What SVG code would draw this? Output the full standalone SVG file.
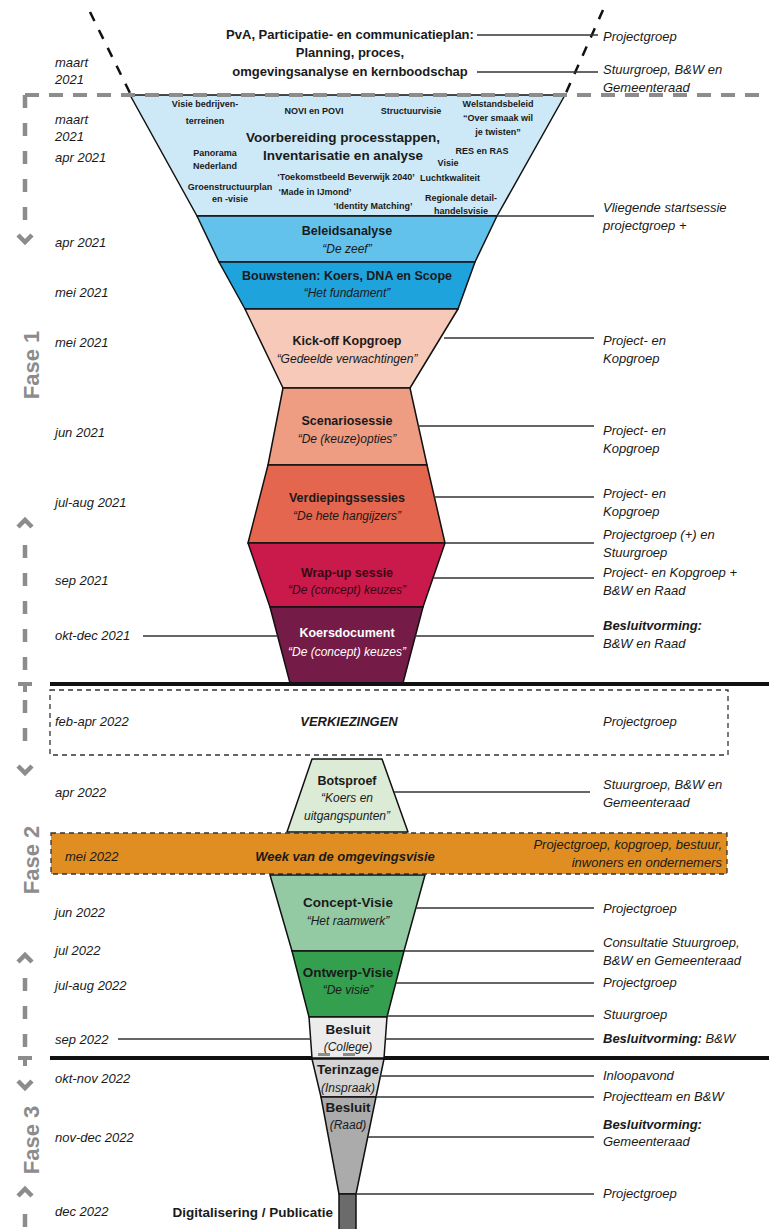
<svg xmlns="http://www.w3.org/2000/svg" width="769" height="1229" viewBox="0 0 769 1229">
<style>
text{font-family:"Liberation Sans",Arial,sans-serif;fill:#1a1a1a}
.d{font-size:13px;font-style:italic}
.r{font-size:13px;font-style:italic}
.rb{font-size:13px;font-style:italic;font-weight:bold}
.t{font-size:12.5px;font-weight:bold;text-anchor:middle}
.tl{font-size:13.5px;font-weight:bold;text-anchor:middle}
.q{font-size:12px;font-style:italic;text-anchor:middle}
.s{font-size:9px;font-weight:bold;text-anchor:middle}
.m{font-size:13px;font-weight:bold;text-anchor:middle}
.w{fill:#ffffff}
.fase{font-size:22px;font-weight:bold;fill:#8c8c8c;text-anchor:middle}
.conn line{stroke:#333;stroke-width:1.3}
.fn{stroke:#111;stroke-width:1.5;stroke-linejoin:round}
.ph{stroke:#8c8c8c;stroke-width:4;fill:none}
.chev{stroke:#8c8c8c;stroke-width:4.5;fill:none;stroke-linejoin:miter}
.dash{stroke:#8c8c8c;stroke-width:4.5;fill:none;stroke-dasharray:13 15}
.box{fill:none;stroke:#333;stroke-width:1.3;stroke-dasharray:5 4}
</style>

<!-- top dashed diagonal lines -->
<g id="top-funnel-lines">
<line x1="90" y1="12" x2="131" y2="95" stroke="#111" stroke-width="2.5" stroke-dasharray="10 10"/>
<line x1="603" y1="10" x2="565" y2="95" stroke="#111" stroke-width="2.5" stroke-dasharray="10 10"/>
</g>

<g id="node-pva">
<text class="m" x="350" y="39">PvA, Participatie- en communicatieplan:</text>
<text class="m" x="350" y="57">Planning, proces,</text>
<text class="m" x="350" y="76">omgevingsanalyse en kernboodschap</text>
</g>

<!-- funnel phase 1 -->
<g id="node-voorbereiding">
<polygon class="fn" points="130,95 565,95 497,216 197,216" fill="#cde8f6"/>
<text class="s" x="205" y="107">Visie bedrijven-</text>
<text class="s" x="205" y="124">terreinen</text>
<text class="s" x="314" y="114">NOVI en POVI</text>
<text class="s" x="411" y="114">Structuurvisie</text>
<text class="s" x="498" y="107">Welstandsbeleid</text>
<text class="s" x="498" y="121">“Over smaak wil</text>
<text class="s" x="498" y="135">je twisten”</text>
<text class="tl" x="343" y="142">Voorbereiding processtappen,</text>
<text class="tl" x="343" y="160">Inventarisatie en analyse</text>
<text class="s" x="215" y="156">Panorama</text>
<text class="s" x="215" y="169">Nederland</text>
<text class="s" x="482" y="154">RES en RAS</text>
<text class="s" x="448" y="166">Visie</text>
<text class="s" x="450" y="181">Luchtkwaliteit</text>
<text class="s" x="346" y="180">‘Toekomstbeeld Beverwijk 2040’</text>
<text class="s" x="230" y="190">Groenstructuurplan</text>
<text class="s" x="230" y="202">en -visie</text>
<text class="s" x="315" y="195">‘Made in IJmond’</text>
<text class="s" x="373" y="209">‘Identity Matching’</text>
<text class="s" x="461" y="201">Regionale detail-</text>
<text class="s" x="461" y="214">handelsvisie</text>
</g>

<g id="node-beleidsanalyse">
<polygon class="fn" points="197,216 497,216 475,262 219,262" fill="#62c2ec"/>
<text class="t" x="347" y="234.5">Beleidsanalyse</text>
<text class="q" x="347" y="252.5">“De zeef”</text>
</g>

<g id="node-bouwstenen">
<polygon class="fn" points="219,262 475,262 458,309 245,309" fill="#1fa3dd"/>
<text class="t" x="347" y="279.5">Bouwstenen: Koers, DNA en Scope</text>
<text class="q" x="347" y="296.5">“Het fundament”</text>
</g>

<g id="node-kickoff">
<polygon class="fn" points="245,309 458,309 410,388 283,388" fill="#f6c9b8"/>
<text class="t" x="347" y="344.5">Kick-off Kopgroep</text>
<text class="q" x="347" y="362.5">“Gedeelde verwachtingen”</text>
</g>

<g id="node-scenario">
<polygon class="fn" points="283,388 410,388 427,465 268,465" fill="#ee9c82"/>
<text class="t" x="347" y="424.5">Scenariosessie</text>
<text class="q" x="347" y="442.5">“De (keuze)opties”</text>
</g>

<g id="node-verdieping">
<polygon class="fn" points="268,465 427,465 445,543 248,543" fill="#e4664e"/>
<text class="t" x="347" y="501.5">Verdiepingssessies</text>
<text class="q" x="347" y="519.5">“De hete hangijzers”</text>
</g>

<g id="node-wrapup">
<polygon class="fn" points="248,543 445,543 423,607 270,607" fill="#c91a4b"/>
<text class="t" x="347" y="576.5" style="fill:#3a0812">Wrap-up sessie</text>
<text class="q" x="347" y="593.5" style="fill:#3a0812">“De (concept) keuzes”</text>
</g>

<g id="node-koersdocument">
<polygon class="fn" points="270,607 423,607 403,683 290,683" fill="#741b47"/>
<text class="t w" x="347" y="636.5">Koersdocument</text>
<text class="q w" x="347" y="655.5">“De (concept) keuzes”</text>
</g>

<!-- horizontal separators -->
<g id="separators">
<line x1="25" y1="95" x2="769" y2="95" stroke="#8c8c8c" stroke-width="4" stroke-dasharray="14 10"/>
<line x1="50" y1="684" x2="769" y2="684" stroke="#111" stroke-width="4"/>
<line x1="50" y1="1058" x2="769" y2="1058" stroke="#111" stroke-width="4"/>
</g>

<g id="node-verkiezingen">
<rect class="box" x="50" y="690" width="678" height="65"/>
<text class="d" x="55" y="726">feb-apr 2022</text>
<text class="rb" x="349" y="726" text-anchor="middle">VERKIEZINGEN</text>
<text class="r" x="603" y="726">Projectgroep</text>
</g>

<g id="node-botsproef">
<polygon class="fn" points="312,759 382,759 408,832 287,832" fill="#dcebd5"/>
<text class="t" x="347" y="784.5">Botsproef</text>
<text class="q" x="347" y="801.5">“Koers en</text>
<text class="q" x="347" y="819.5">uitgangspunten”</text>
</g>

<g id="node-week">
<rect x="51" y="833" width="676" height="41" fill="#e08e22" stroke="#333" stroke-width="1.3" stroke-dasharray="5 4"/>
<text class="d" x="65" y="861">mei 2022</text>
<text class="rb" x="345" y="861" text-anchor="middle">Week van de omgevingsvisie</text>
<text class="r" x="722" y="849" text-anchor="end">Projectgroep, kopgroep, bestuur,</text>
<text class="r" x="722" y="867" text-anchor="end">inwoners en ondernemers</text>
</g>

<g id="node-concept">
<polygon class="fn" points="270,875 425,875 404,951 292,951" fill="#94caa3"/>
<text class="tl" x="348" y="907">Concept-Visie</text>
<text class="q" x="348" y="925">“Het raamwerk”</text>
</g>

<g id="node-ontwerp">
<polygon class="fn" points="292,951 404,951 387,1017 309,1017" fill="#34a04f"/>
<text class="tl" x="348" y="977">Ontwerp-Visie</text>
<text class="q" x="348" y="994">“De visie”</text>
</g>

<g id="node-besluit-college">
<polygon class="fn" points="309,1017 387,1017 384,1058 312,1058" fill="#ececec"/>
<text class="tl" x="348" y="1034">Besluit</text>
<text class="q" x="348" y="1051">(College)</text>
<rect x="318" y="1053" width="12" height="3" fill="#8c8c8c"/>
<rect x="343" y="1053" width="12" height="3" fill="#8c8c8c"/>
</g>

<g id="node-terinzage">
<polygon class="fn" points="312,1059 384,1059 376,1097 321,1097" fill="#d3d3d3"/>
<text class="tl" x="348" y="1074">Terinzage</text>
<text class="q" x="348" y="1092">(Inspraak)</text>
</g>

<g id="node-besluit-raad">
<polygon class="fn" points="321,1097 376,1097 356,1194 339,1194" fill="#ababab"/>
<text class="tl" x="348" y="1112">Besluit</text>
<text class="q" x="348" y="1129">(Raad)</text>
</g>

<g id="node-digitalisering">
<rect class="fn" x="339" y="1194" width="17" height="40" fill="#6b6b6b"/>
<text class="tl" x="333" y="1217" style="text-anchor:end">Digitalisering /  Publicatie</text>
</g>

<!-- connectors -->
<g id="connectors" class="conn">
<line x1="477" y1="35" x2="598" y2="35"/>
<line x1="477" y1="72" x2="598" y2="72"/>
<line x1="497" y1="216" x2="594" y2="216"/>
<line x1="444" y1="338" x2="594" y2="338"/>
<line x1="418" y1="426" x2="594" y2="426"/>
<line x1="434" y1="497" x2="594" y2="497"/>
<line x1="445" y1="543" x2="594" y2="543"/>
<line x1="433" y1="578" x2="594" y2="578"/>
<line x1="415" y1="636" x2="594" y2="636"/>
<line x1="143" y1="636" x2="278" y2="636"/>
<line x1="394" y1="792" x2="590" y2="792"/>
<line x1="416" y1="908" x2="594" y2="908"/>
<line x1="404" y1="951" x2="594" y2="951"/>
<line x1="396" y1="983" x2="594" y2="983"/>
<line x1="387" y1="1016" x2="594" y2="1016"/>
<line x1="385" y1="1039" x2="594" y2="1039"/>
<line x1="118" y1="1039" x2="311" y2="1039"/>
<line x1="380" y1="1076" x2="594" y2="1076"/>
<line x1="376" y1="1097" x2="594" y2="1097"/>
<line x1="368" y1="1137" x2="594" y2="1137"/>
<line x1="356" y1="1194" x2="594" y2="1194"/>
</g>

<!-- right-hand labels -->
<g id="labels-right">
<text class="r" x="603" y="41">Projectgroep</text>
<text class="r" x="603" y="74">Stuurgroep, B&amp;W en</text>
<text class="r" x="603" y="92">Gemeenteraad</text>
<text class="r" x="603" y="212">Vliegende startsessie</text>
<text class="r" x="603" y="230">projectgroep +</text>
<text class="r" x="603" y="345">Project- en</text>
<text class="r" x="603" y="363">Kopgroep</text>
<text class="r" x="603" y="435">Project- en</text>
<text class="r" x="603" y="453">Kopgroep</text>
<text class="r" x="603" y="498">Project- en</text>
<text class="r" x="603" y="516">Kopgroep</text>
<text class="r" x="603" y="539">Projectgroep (+) en</text>
<text class="r" x="603" y="557">Stuurgroep</text>
<text class="r" x="603" y="577">Project- en Kopgroep +</text>
<text class="r" x="603" y="595">B&amp;W en Raad</text>
<text class="rb" x="603" y="630">Besluitvorming:</text>
<text class="r" x="603" y="648">B&amp;W en Raad</text>
<text class="r" x="603" y="789">Stuurgroep, B&amp;W en</text>
<text class="r" x="603" y="807">Gemeenteraad</text>
<text class="r" x="603" y="913">Projectgroep</text>
<text class="r" x="603" y="947">Consultatie Stuurgroep,</text>
<text class="r" x="603" y="965">B&amp;W en Gemeenteraad</text>
<text class="r" x="603" y="987">Projectgroep</text>
<text class="r" x="603" y="1019">Stuurgroep</text>
<text class="r" x="603" y="1043"><tspan font-weight="bold">Besluitvorming:</tspan> B&amp;W</text>
<text class="r" x="603" y="1080">Inloopavond</text>
<text class="r" x="603" y="1101">Projectteam en B&amp;W</text>
<text class="rb" x="603" y="1129">Besluitvorming:</text>
<text class="r" x="603" y="1146">Gemeenteraad</text>
<text class="r" x="603" y="1198">Projectgroep</text>
</g>

<!-- left-hand dates -->
<g id="labels-left">
<text class="d" x="55" y="67">maart</text>
<text class="d" x="55" y="84">2021</text>
<text class="d" x="55" y="124">maart</text>
<text class="d" x="55" y="141">2021</text>
<text class="d" x="55" y="162">apr 2021</text>
<text class="d" x="55" y="247">apr 2021</text>
<text class="d" x="55" y="297">mei 2021</text>
<text class="d" x="55" y="347">mei 2021</text>
<text class="d" x="55" y="437">jun 2021</text>
<text class="d" x="55" y="507">jul-aug 2021</text>
<text class="d" x="55" y="585">sep 2021</text>
<text class="d" x="55" y="640">okt-dec 2021</text>
<text class="d" x="55" y="797">apr 2022</text>
<text class="d" x="55" y="917">jun 2022</text>
<text class="d" x="55" y="955">jul 2022</text>
<text class="d" x="55" y="990">jul-aug 2022</text>
<text class="d" x="55" y="1044">sep 2022</text>
<text class="d" x="55" y="1083">okt-nov 2022</text>
<text class="d" x="55" y="1142">nov-dec 2022</text>
<text class="d" x="55" y="1216">dec 2022</text>
</g>

<!-- phase markers -->
<g id="phase-1">
<path class="dash" d="M25,95 V224"/>
<path class="chev" d="M18,235 L25,242 L32,235"/>
<text class="fase" transform="translate(39,365) rotate(-90)">Fase 1</text>
<path class="chev" d="M18,527 L25,520 L32,527"/>
<path class="dash" d="M25,545 V676"/>
<path class="ph" d="M18,684 H32 M25,684 V692"/>
</g>
<g id="phase-2">
<path class="dash" d="M25,700 V752"/>
<path class="chev" d="M18,766 L25,773 L32,766"/>
<text class="fase" transform="translate(39,860) rotate(-90)">Fase 2</text>
<path class="chev" d="M18,962 L25,955 L32,962"/>
<path class="dash" d="M25,978 V1050"/>
<path class="ph" d="M18,1058 H32 M25,1058 V1066"/>
</g>
<g id="phase-3">
<path class="chev" d="M18,1081 L25,1088 L32,1081"/>
<text class="fase" transform="translate(39,1140) rotate(-90)">Fase 3</text>
<path class="chev" d="M18,1196 L25,1189 L32,1196"/>
<path class="dash" d="M25,1214 V1229"/>
</g>
</svg>
